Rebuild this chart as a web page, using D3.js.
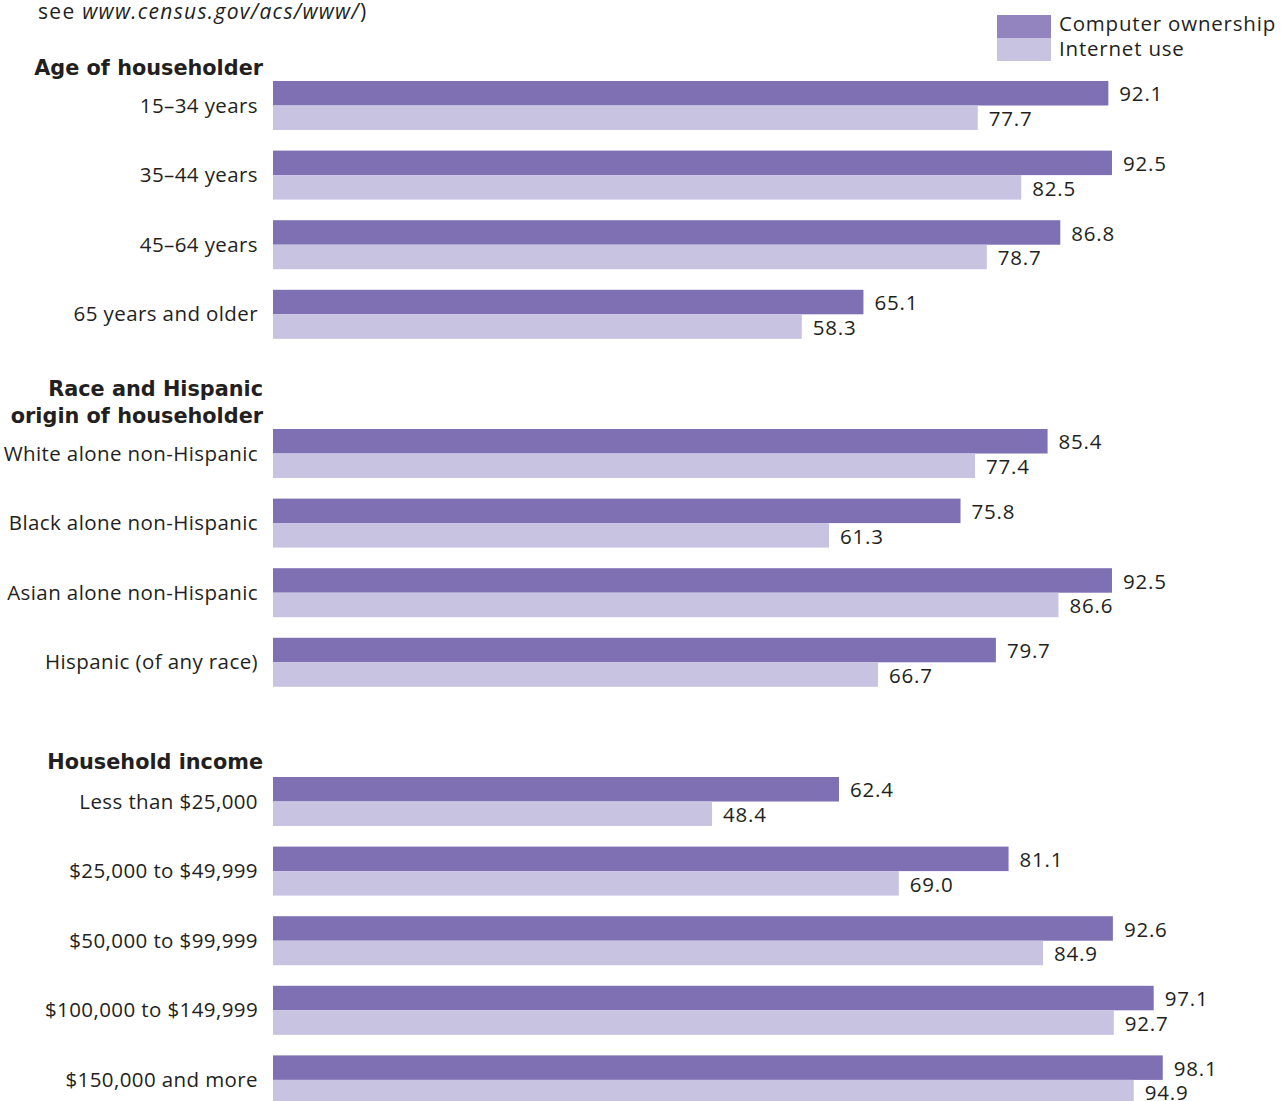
<!DOCTYPE html>
<html>
<head>
<meta charset="utf-8">
<script src="https://cdn.jsdelivr.net/npm/d3@7"></script>
<style>
  body { margin: 0; background: #fff; }
  text { font-family: "Open Sans", "Noto Sans", sans-serif; fill: #231f20; letter-spacing: 0.8px; }
  text.head { font-family: "DejaVu Sans", sans-serif; letter-spacing: 0; }
  text.cat { letter-spacing: 0.4px; }
</style>
</head>
<body>
<div id="chart"></div>
<script>
// chart data
var series = ["Computer ownership", "Internet use"];

var ageCats = ["15\u201334 years", "35\u201344 years", "45\u201364 years", "65 years and older"];
var ageComputer = [92.1, 92.5, 86.8, 65.1];
var ageInternet = [77.7, 82.5, 78.7, 58.3];

var raceCats = ["White alone non-Hispanic", "Black alone non-Hispanic", "Asian alone non-Hispanic", "Hispanic (of any race)"];
var raceComputer = [85.4, 75.8, 92.5, 79.7];
var raceInternet = [77.4, 61.3, 86.6, 66.7];

var incomeCats = ["Less than $25,000", "$25,000 to $49,999", "$50,000 to $99,999", "$100,000 to $149,999", "$150,000 and more"];
var incomeComputer = [62.4, 81.1, 92.6, 97.1, 98.1];
var incomeInternet = [48.4, 69.0, 84.9, 92.7, 94.9];

var width = 1281, height = 1101;
var colors = { "Computer ownership": "#7f70b3", "Internet use": "#c7c3e1" };
var legendColors = { "Computer ownership": "#9384c0", "Internet use": "#c7c3e1" };

var svg = d3.select("#chart").append("svg")
    .attr("width", width)
    .attr("height", height);

var x = d3.scaleLinear().domain([0, 100]).range([273, 1180]);

var sections = [
  { title: ["Age of householder"], titleY: 75, top: 81, cats: ageCats, comp: ageComputer, net: ageInternet },
  { title: ["Race and Hispanic", "origin of householder"], titleY: 396, top: 429, cats: raceCats, comp: raceComputer, net: raceInternet },
  { title: ["Household income"], titleY: 769, top: 777, cats: incomeCats, comp: incomeComputer, net: incomeInternet }
];

var step = 69.6, groupH = 49;

// note line at top (cut off in source)
var note = svg.append("text").attr("x", 38).attr("y", 19).attr("font-size", 21)
    .style("letter-spacing", "1.3px");
note.append("tspan").text("see ");
note.append("tspan").attr("font-style", "italic").text("www.census.gov/acs/www/");
note.append("tspan").text(")");

sections.forEach(function(sec) {
  var n = sec.cats.length;
  var y = d3.scaleBand()
      .domain(sec.cats)
      .range([sec.top, sec.top + (n - 1) * step + groupH])
      .paddingInner((step - groupH) / step)
      .paddingOuter(0);
  var ySub = d3.scaleBand().domain(series).range([0, y.bandwidth()]);

  var t = svg.append("text")
      .attr("class", "head")
      .attr("x", 263)
      .attr("y", sec.titleY)
      .attr("text-anchor", "end")
      .attr("font-weight", "bold")
      .attr("font-size", 20.8);
  t.selectAll("tspan").data(sec.title).enter().append("tspan")
      .attr("x", 263)
      .attr("dy", function(d, i) { return i === 0 ? 0 : 27; })
      .text(function(d) { return d; });

  var rows = sec.cats.map(function(c, i) {
    return { cat: c, vals: [
      { s: series[0], v: sec.comp[i] },
      { s: series[1], v: sec.net[i] }
    ] };
  });

  var g = svg.append("g").selectAll("g.row").data(rows).enter().append("g")
      .attr("class", "row")
      .attr("transform", function(d) { return "translate(0," + y(d.cat) + ")"; });

  g.append("text")
      .attr("class", "cat")
      .attr("x", 258)
      .attr("y", y.bandwidth() / 2)
      .attr("dy", "0.35em")
      .attr("text-anchor", "end")
      .attr("font-size", 20.5)
      .text(function(d) { return d.cat; });

  g.selectAll("rect").data(function(d) { return d.vals; }).enter().append("rect")
      .attr("x", x(0))
      .attr("y", function(d) { return ySub(d.s); })
      .attr("width", function(d) { return x(d.v) - x(0); })
      .attr("height", ySub.bandwidth())
      .attr("fill", function(d) { return colors[d.s]; });

  g.selectAll("text.val").data(function(d) { return d.vals; }).enter().append("text")
      .attr("class", "val")
      .attr("x", function(d) { return x(d.v) + 11; })
      .attr("y", function(d) { return ySub(d.s) + ySub.bandwidth() / 2 + 1; })
      .attr("dy", "0.35em")
      .attr("font-size", 20.5)
      .text(function(d) { return d3.format(".1f")(d.v); });
});

// legend
var leg = svg.append("g").selectAll("g").data(series).enter().append("g");
leg.append("rect")
    .attr("x", 997)
    .attr("y", function(d, i) { return 15 + i * 23; })
    .attr("width", 54).attr("height", 23)
    .attr("fill", function(d) { return legendColors[d]; });
leg.append("text")
    .attr("x", 1059)
    .attr("y", function(d, i) { return 31 + i * 25; })
    .attr("font-size", 20.5)
    .text(function(d) { return d; });
</script>
</body>
</html>
